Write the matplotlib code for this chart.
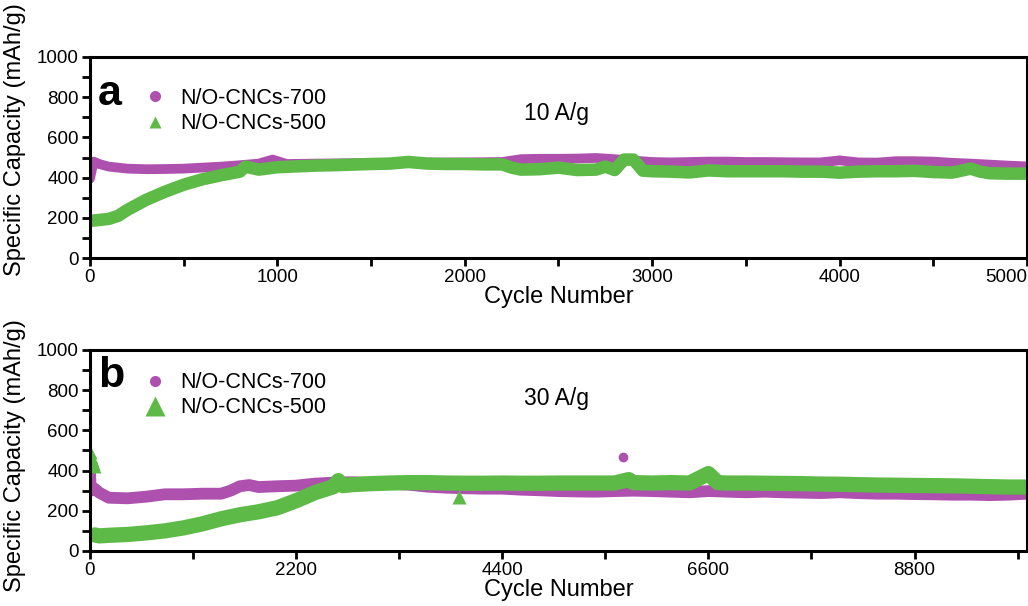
import numpy as np
import matplotlib
matplotlib.use("Agg")
import matplotlib.pyplot as plt
from matplotlib.lines import Line2D
from matplotlib.ticker import MultipleLocator

plt.rcParams['font.family'] = ['Liberation Sans', 'DejaVu Sans']

# colours
PURPLE = '#AE50AE'
GREEN = '#5DBA47'

# ---- panel a : 10 A/g ----
a_x_700 = [0, 20, 50, 100, 150, 200, 300, 400, 500, 600, 700, 800, 900, 975, 1050,
           1200, 1400, 1600, 1800, 2000, 2200, 2300, 2400, 2500, 2600, 2700, 2800,
           2900, 3000, 3100, 3200, 3300, 3400, 3500, 3600, 3700, 3800, 3900, 4000,
           4100, 4200, 4300, 4400, 4500, 4600, 4700, 4800, 4900, 5000]
a_y_700 = [395, 480, 468, 455, 450, 445, 442, 443, 445, 450, 455, 462, 470, 490, 468,
           470, 472, 474, 475, 476, 478, 492, 494, 494, 495, 498, 492,
           485, 478, 476, 478, 480, 480, 478, 478, 477, 476, 476, 486,
           476, 475, 482, 482, 480, 474, 470, 465, 460, 456]

a_x_500 = [0, 50, 100, 150, 200, 300, 400, 500, 600, 700, 800, 830, 900, 1000, 1100,
           1200, 1300, 1400, 1500, 1600, 1700, 1800, 1900, 2000, 2100, 2200, 2250,
           2300, 2400, 2500, 2600, 2700, 2750, 2800, 2850, 2900, 2950, 3000, 3100,
           3200, 3300, 3400, 3500, 3600, 3700, 3800, 3900, 4000, 4100, 4200, 4300,
           4400, 4500, 4600, 4700, 4750, 4800, 4900, 5000]
a_y_500 = [185, 190, 195, 210, 240, 290, 330, 365, 392, 412, 430, 455, 440, 452, 456,
           460, 462, 465, 468, 470, 478, 470, 468, 468, 466, 466, 450,
           440, 442, 450, 438, 440, 455, 438, 490, 490, 435, 432, 430,
           426, 436, 432, 432, 432, 432, 430, 430, 425, 430, 432, 432,
           434, 428, 425, 445, 430, 422, 420, 420]
a_ticks = [0, 1000, 2000, 3000, 4000, 5000]

# ---- panel b : 30 A/g ----
b_x_700 = [0, 10, 50, 100, 200, 400, 600, 800, 1000, 1200, 1400, 1500, 1600, 1700,
           1800, 2000, 2200, 2400, 2600, 2800, 3000, 3200, 3400, 3600, 3800, 4000,
           4200, 4400, 4600, 4800, 5000, 5200, 5400, 5600, 5800, 6000, 6200, 6400,
           6600, 6800, 7000, 7200, 7400, 7600, 7800, 8000, 8200, 8400, 8600, 8800,
           9000, 9200, 9400, 9600, 9800, 10000]
b_y_700 = [390, 300, 310, 290, 265, 262, 270, 282, 282, 285, 285, 300, 322, 328,
           318, 322, 325, 335, 340, 342, 338, 335, 330, 320, 315, 312,
           310, 310, 305, 302, 298, 296, 295, 298, 300, 298, 295, 292,
           298, 295, 292, 295, 292, 290, 288, 292, 288, 285, 285, 283,
           282, 280, 280, 278, 280, 285]
b_out_x_700 = [5690]
b_out_y_700 = [469]

b_x_500 = [50, 100, 200, 400, 600, 800, 1000, 1200, 1400, 1600, 1800, 2000, 2200,
           2400, 2600, 2650, 2700, 2800, 3000, 3200, 3400, 3600, 3800, 4000, 4200,
           4400, 4600, 4800, 5000, 5200, 5400, 5600, 5750, 5800, 6000, 6200, 6400,
           6600, 6700, 6800, 7000, 7200, 7400, 7600, 7800, 8000, 8200, 8400, 8600,
           8800, 9000, 9200, 9400, 9600, 9800, 10000]
b_y_500 = [80, 75, 78, 82, 90, 100, 115, 135, 160, 180, 195, 215, 250,
           290, 320, 350, 325, 330, 335, 338, 340, 340, 338, 337, 337,
           338, 337, 337, 338, 338, 338, 338, 355, 340, 338, 340, 338,
           385, 340, 338, 338, 337, 336, 335, 333, 332, 330, 328, 327,
           326, 325, 324, 322, 320, 318, 318]
b_init_x_500 = [0, 10, 20, 30, 40]
b_init_y_500 = [490, 470, 455, 440, 425]
b_out_x_500 = [3940]
b_out_y_500 = [270]
b_ticks = [0, 2200, 4400, 6600, 8800]

fig = plt.figure(figsize=(10.28, 6.06), dpi=100)
ax1 = fig.add_axes([0.0875, 0.574, 0.9115, 0.332])
ax2 = fig.add_axes([0.0875, 0.0908, 0.9115, 0.3317])


def style(ax, xmax, ticks, minor):
    ax.set_xlim(0, xmax)
    ax.set_ylim(0, 1000)
    ax.set_xticks(ticks)
    ax.set_xticklabels([str(t) for t in ticks])
    ax.xaxis.set_minor_locator(MultipleLocator(minor))
    ax.yaxis.set_major_locator(MultipleLocator(200))
    ax.yaxis.set_minor_locator(MultipleLocator(100))
    for s in ax.spines.values():
        s.set_linewidth(2.2)
    ax.tick_params(which='both', direction='out', width=2.0, labelsize=13.5)
    ax.tick_params(which='major', length=6, pad=2)
    ax.tick_params(which='minor', length=6)
    ax.set_xlabel('Cycle Number', fontsize=17, labelpad=0)


style(ax1, 5000, a_ticks, 500)
style(ax2, 10000, b_ticks, 1100)

# last tick label of panel a sits against the right edge
ax1.get_xticklabels()[-1].set_horizontalalignment('right')

# bands
ax1.plot(a_x_700, a_y_700, '-', color=PURPLE, lw=7, solid_capstyle='round')
ax1.plot(a_x_500, a_y_500, '-', color=GREEN, lw=9, solid_capstyle='round')

ax2.plot(b_x_700, b_y_700, '-', color=PURPLE, lw=8.5, solid_capstyle='round')
ax2.plot(b_out_x_700, b_out_y_700, 'o', color=PURPLE, ms=7, mec='none')
ax2.plot(b_x_500, b_y_500, '-', color=GREEN, lw=11, solid_capstyle='round')
ax2.plot(b_init_x_500, b_init_y_500, '^', color=GREEN, ms=10, mec='none')
ax2.plot(b_out_x_500, b_out_y_500, '^', color=GREEN, ms=10, mec='none')

for ax, lbl, rate, ly, ry, tri in [(ax1, 'a', '10 A/g', 0.761, 0.721, 9),
                                   (ax2, 'b', '30 A/g', 0.816, 0.761, 14)]:
    ax.text(0.0085, ly, lbl, transform=ax.transAxes, fontsize=31,
            fontweight='bold', ha='left', va='baseline')
    ax.text(0.498, ry, rate, transform=ax.transAxes, fontsize=16.5,
            ha='center', va='center')
    handles = [Line2D([], [], ls='none', marker='o', color=PURPLE, mec='none', ms=8),
               Line2D([], [], ls='none', marker='^', color=GREEN, mec='none', ms=tri)]
    top = 0.846 if ax is ax1 else 0.89
    ax.legend(handles, ['N/O-CNCs-700', 'N/O-CNCs-500'], loc='upper left',
              bbox_to_anchor=(0.0577, top), frameon=False, fontsize=15.5,
              handlelength=1.0, handletextpad=0.67, labelspacing=0.2,
              borderpad=0, borderaxespad=0)

fig.text(0.015, 0.77, 'Specific Capacity (mAh/g)', rotation=90, fontsize=17,
         ha='center', va='center')
fig.text(0.015, 0.249, 'Specific Capacity (mAh/g)', rotation=90, fontsize=17,
         ha='center', va='center')

fig.savefig('out.png', dpi=100)
